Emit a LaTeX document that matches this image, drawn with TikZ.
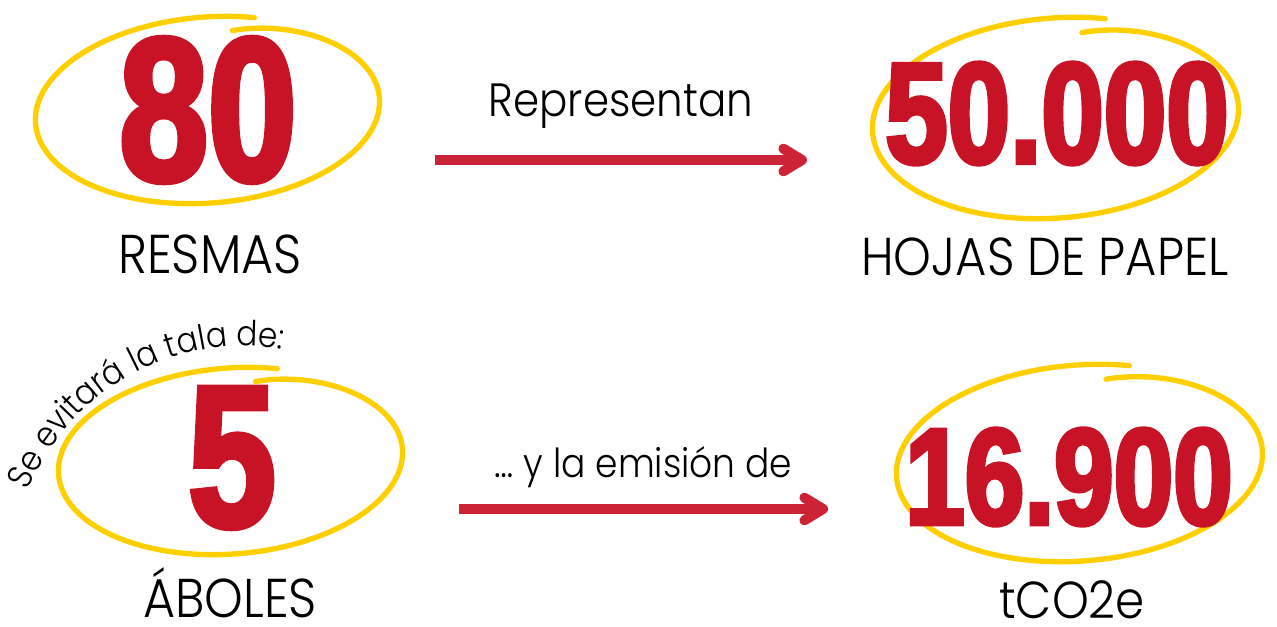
\documentclass[tikz,border=0pt]{standalone}
\usepackage{fontspec}
\setmainfont{Poppins}[UprightFont={* Light},FakeStretch=0.9]
\newfontfamily\numfont{Liberation Sans Bold}[FakeStretch=0.78,FakeBold=3]
\usetikzlibrary{arrows.meta,decorations.text}
\definecolor{numred}{RGB}{200,18,38}
\definecolor{arrowred}{RGB}{204,36,54}
\definecolor{loopyellow}{RGB}{255,207,0}
% hand drawn loop round a number: centre x, centre y, radius x, radius y (tilted 4.5 deg)
\newcommand{\goldloop}[4]{%
  \draw[goldstroke] plot[domain=78:-288,samples=150]
    ({#1+(1-0.15*exp(-(78-\x)/25))*(#3*cos(\x)*cos(4.5)-#4*sin(\x)*sin(4.5))},
     {#2-(1-0.15*exp(-(78-\x)/25))*(#3*cos(\x)*sin(4.5)+#4*sin(\x)*cos(4.5))});}
\begin{document}
\begin{tikzpicture}[x=0.75pt,y=-0.75pt,
    goldstroke/.style={draw=loopyellow,line width=4pt,line cap=round},
    bignum/.style={text=numred,inner sep=0pt,font=\numfont\fontsize{#1}{#1}\selectfont},
    caption/.style={inner sep=0pt,anchor=base,font=\fontsize{#1}{#1}\selectfont},
    arrowtext/.style={inner sep=0pt,font=\fontsize{#1}{#1}\selectfont},
    redarrow/.style={draw=arrowred,line width=7.5pt,-{Straight Barb[length=14pt,width=17pt,round]}}]
    \useasboundingbox (0,0) rectangle (1277,627);
    \goldloop{208}{110}{173}{93}
    \goldloop{1056}{118}{184}{100}
    \goldloop{231}{461}{173}{93}
    \goldloop{1080}{463}{184}{98}
    \node[bignum=153] (n80) at (208,110) {80};
    \node[bignum=108] (n50) at (1057,113.5) {50.000};
    \node[bignum=151] (n5) at (232,458) {5};
    \node[bignum=103] (n169) at (1069,477) {16.900};
    \node[caption=41] (resmas) at (210,273) {RESMAS};
    \node[caption=40] (hojas) at (1045,276) {HOJAS DE PAPEL};
    \node[caption=41] (arboles) at (230,617) {ÁBOLES};
    \node[caption=39] (tco) at (1072,618) {tCO2e};
    \coordinate (a1) at (435,160);
    \coordinate (b1) at (807,160);
    \coordinate (a2) at (459,509);
    \coordinate (b2) at (828,509);
    \draw [redarrow] (a1) -- node [arrowtext=35,above=20pt,midway] (rep) {Representan} (b1);
    \draw [redarrow] (a2) -- node [arrowtext=30,above=12pt,midway] (emis) {… y la emisión de} (b2);
    \path [decorate,decoration={text along path,text align=center,
        text={|\fontsize{26}{28}\selectfont|Se evitará la tala de:}}]
      plot[domain=158:80,samples=60] ({244+234*cos(\x)},{580-234*sin(\x)});
  \end{tikzpicture}
\end{document}
